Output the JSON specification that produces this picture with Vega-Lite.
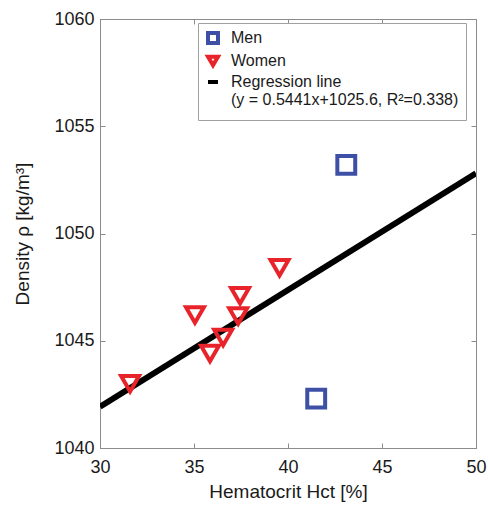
{
  "$schema": "https://vega.github.io/schema/vega-lite/v6.json",
  "width": 376,
  "height": 429,
  "autosize": {"type": "none"},
  "padding": {"left": 100, "top": 19, "right": 12, "bottom": 59},
  "background": "white",
  "config": {
    "view": {"stroke": "#8c8c8c", "strokeWidth": 1},
    "font": "Liberation Sans",
    "axis": {
      "grid": false,
      "domainColor": "#8c8c8c",
      "tickColor": "#8c8c8c",
      "tickSize": -5,
      "labelFlush": false,
      "labelFont": "Liberation Sans",
      "labelFontSize": 18,
      "labelColor": "#1a1a1a",
      "titleFont": "Liberation Sans",
      "titleFontSize": 19,
      "titleFontWeight": "normal",
      "titleColor": "#1a1a1a"
    },
    "legend": {
      "orient": "none",
      "legendX": 98,
      "legendY": 4,
      "fillColor": "white",
      "strokeColor": "#a0a0a0",
      "padding": 7,
      "labelFont": "Liberation Sans",
      "labelFontSize": 16,
      "labelColor": "#1a1a1a",
      "labelLimit": 320,
      "labelOffset": 10,
      "symbolSize": 100,
      "symbolStrokeWidth": 4,
      "rowPadding": -3,
      "title": null
    }
  },
  "datasets": {
    "points": [
      {"hct": 43.1, "density": 1053.2, "series": "Men"},
      {"hct": 41.5, "density": 1042.3, "series": "Men"},
      {"hct": 31.6, "density": 1043.0, "series": "Women"},
      {"hct": 35.05, "density": 1046.2, "series": "Women"},
      {"hct": 35.85, "density": 1044.4, "series": "Women"},
      {"hct": 36.55, "density": 1045.15, "series": "Women"},
      {"hct": 37.35, "density": 1046.15, "series": "Women"},
      {"hct": 37.45, "density": 1047.1, "series": "Women"},
      {"hct": 39.55, "density": 1048.4, "series": "Women"}
    ],
    "reg": [
      {"hct": 30, "density": 1041.92, "series": "Regression line"},
      {"hct": 50, "density": 1052.805, "series": "Regression line"}
    ]
  },
  "layer": [
    {
      "data": {"name": "reg"},
      "mark": {"type": "line", "strokeWidth": 6, "clip": true},
      "encoding": {
        "x": {"field": "hct", "type": "quantitative", "scale": {"domain": [30, 50], "zero": false, "nice": false},
              "axis": {"orient": "bottom", "values": [30, 35, 40, 45, 50], "labelPadding": 15, "title": "Hematocrit Hct [%]", "titlePadding": 6}},
        "y": {"field": "density", "type": "quantitative", "scale": {"domain": [1040, 1060], "zero": false, "nice": false},
              "axis": {"orient": "left", "values": [1040, 1045, 1050, 1055, 1060], "format": "d", "labelPadding": 11, "title": "Density ρ [kg/m³]", "titlePadding": 21}},
        "color": {"field": "series", "type": "nominal",
                  "scale": {"domain": ["Men", "Women", "Regression line", "(y = 0.5441x+1025.6, R²=0.338)"],
                            "range": ["#3d50a6", "#e8232a", "#000000", "rgba(0,0,0,0)"]}}
      }
    },
    {
      "data": {"name": "points"},
      "mark": {"type": "point", "filled": false, "strokeWidth": 4, "opacity": 1, "size": 320},
      "encoding": {
        "x": {"field": "hct", "type": "quantitative",
              "axis": {"orient": "top", "values": [30, 35, 40, 45, 50], "labels": false, "title": null}},
        "y": {"field": "density", "type": "quantitative",
              "axis": {"orient": "right", "values": [1040, 1045, 1050, 1055, 1060], "labels": false, "title": null}},
        "color": {"field": "series", "type": "nominal"},
        "shape": {"field": "series", "type": "nominal",
                  "scale": {"domain": ["Men", "Women", "Regression line", "(y = 0.5441x+1025.6, R²=0.338)"],
                            "range": ["square", "triangle-down", "stroke", "square"]}}
      }
    }
  ],
  "resolve": {"axis": {"x": "independent", "y": "independent"}}
}
